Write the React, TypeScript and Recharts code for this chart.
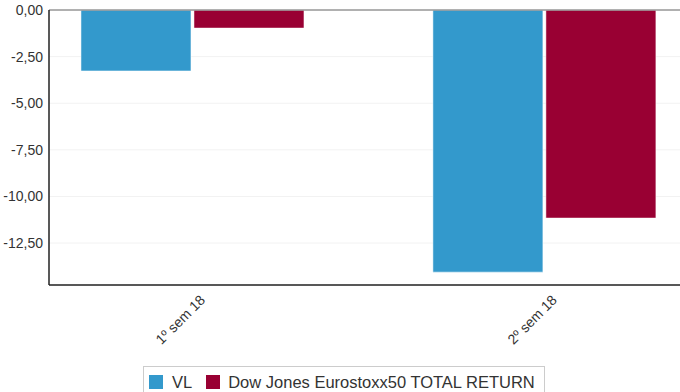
import {
  ComposedChart,
  Bar,
  XAxis,
  YAxis,
  CartesianGrid,
  ReferenceLine,
} from "recharts";

const categories = ["1º sem 18", "2º sem 18"];
const vlValues = [-3.27, -14.06];
const djValues = [-0.97, -11.16];
const yTicks = [0, -2.5, -5, -7.5, -10, -12.5];

const VL_COLOR = "#3399cc";
const DJ_COLOR = "#990033";

const data = categories.map((name, i) => ({
  idx: i,
  name,
  vl: vlValues[i],
  dj: djValues[i],
}));

const fmt = (v: number) => v.toFixed(2).replace(".", ",");

function XTick(props: any) {
  const { x, y, payload } = props;
  return (
    <text
      x={x + 13}
      y={y + 8}
      transform={`rotate(-45, ${x + 13}, ${y + 8})`}
      textAnchor="end"
      fontSize={14}
      fill="#333"
    >
      {categories[payload.value]}
    </text>
  );
}

export default function App() {
  return (
    <div
      style={{
        position: "absolute",
        left: 0,
        top: 0,
        width: 680,
        height: 392,
        overflow: "hidden",
        background: "#fff",
        fontFamily: "'Liberation Sans', Arial, sans-serif",
      }}
    >
      <ComposedChart
        width={680}
        height={392}
        data={data}
        margin={{ top: 10, right: 0, left: 0, bottom: 0 }}
        barGap={3}
      >
        <CartesianGrid vertical={false} stroke="#f2f2f2" />
        <XAxis
          type="number"
          dataKey="idx"
          domain={[-0.409, 1.384]}
          ticks={[0, 1]}
          allowDataOverflow
          interval={0}
          height={107}
          tickLine={false}
          axisLine={{ stroke: "#222", strokeWidth: 1.5 }}
          tick={<XTick />}
        />
        <YAxis
          domain={[-14.75, 0]}
          ticks={yTicks}
          width={49}
          tickLine={false}
          axisLine={{ stroke: "#222", strokeWidth: 1.5 }}
          tickFormatter={fmt}
          tick={{ fontSize: 14, fill: "#333" }}
          tickMargin={0}
        />
        <ReferenceLine y={0} stroke="#999" strokeWidth={1.5} />
        <Bar
          dataKey="vl"
          name="VL"
          fill={VL_COLOR}
          barSize={110}
          stroke="#ffffff"
          strokeOpacity={0.5}
          isAnimationActive={false}
        />
        <Bar
          dataKey="dj"
          name="Dow Jones Eurostoxx50 TOTAL RETURN"
          fill={DJ_COLOR}
          barSize={110}
          stroke="#ffffff"
          strokeOpacity={0.5}
          isAnimationActive={false}
        />
      </ComposedChart>
      <div
        style={{
          position: "absolute",
          left: 143,
          top: 366,
          width: 402,
          height: 30,
          border: "1px solid #cccccc",
          boxSizing: "border-box",
          display: "flex",
          alignItems: "flex-start",
          paddingTop: 6,
          paddingLeft: 5,
          fontSize: 16.5,
          lineHeight: "19px",
          color: "#333",
          whiteSpace: "nowrap",
        }}
      >
        <span style={{ width: 14, height: 14, background: VL_COLOR, marginTop: 2, marginRight: 9 }} />
        <span style={{ marginRight: 14 }}>VL</span>
        <span style={{ width: 14, height: 14, background: DJ_COLOR, marginTop: 2, marginRight: 8 }} />
        <span>Dow Jones Eurostoxx50 TOTAL RETURN</span>
      </div>
    </div>
  );
}
